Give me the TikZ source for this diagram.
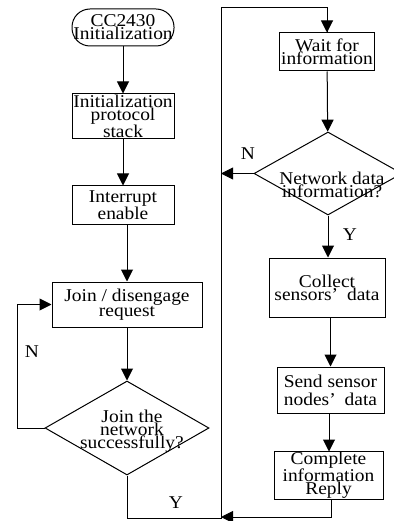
\documentclass[tikz,border=0pt]{standalone}
\usepackage{fontspec}
\setmainfont[FakeStretch=1.08]{Liberation Serif}
\usetikzlibrary{arrows.meta,shapes.geometric,calc}
\begin{document}
\begin{tikzpicture}[x=1pt,y=-1pt,
  every node/.style={font=\fontsize{18}{13}\selectfont, align=center, inner sep=0pt},
  proc/.style={draw, line width=1pt, rectangle},
  term/.style={draw, line width=1pt, rectangle, rounded corners=18pt},
  dec/.style={draw, line width=1pt, diamond},
  flow/.style={line width=1pt, -{Triangle[length=12pt,width=12pt]}},
  link/.style={line width=1pt}]
\useasboundingbox (0,0) rectangle (393,521);

% left column: start-up and network joining
\node[term, minimum width=102pt, minimum height=37pt] (start) at (123,27.5) {CC2430\\Initialization};
\node[proc, minimum width=102pt, minimum height=45pt] (init) at (123,116.5) {Initialization\\protocol\\stack};
\node[proc, minimum width=102pt, minimum height=38pt] (irq) at (123,205) {Interrupt\\enable};
\node[proc, minimum width=150pt, minimum height=45pt] (join) at (127,304.5) {Join / disengage\\request};
\node[dec, minimum width=164pt, minimum height=94pt] (d1) at (127,428) {};
\node (d1t) at (132,431) {Join the\\network\\successfully?};

% right column: data handling loop
\node[proc, minimum width=95pt, minimum height=38pt] (wait) at (327,52) {Wait for\\information};
\node[dec, minimum width=148pt, minimum height=83pt] (d2) at (328,173.5) {};
\node (d2t) at (332,185) {Network data\\information?};
\node[proc, minimum width=116pt, minimum height=59pt] (collect) at (327,287.5) {Collect\\sensors’\hspace{0.5em}data};
\node[proc, minimum width=107pt, minimum height=46pt, font=\fontsize{18}{18}\selectfont] (send) at (330.5,390) {Send sensor\\nodes’\hspace{0.5em}data};
\node[proc, minimum width=109pt, minimum height=48pt] (complete) at (328.5,475) {Complete\\information\\Reply};

% loop rail
\coordinate (top) at (221,8);
\coordinate (bot) at (221,518);

% connectors
\draw[flow] (start) -- (init);
\draw[flow] (init) -- (irq);
\draw[flow] (irq.south -| join.north) -- (join.north);
\draw[flow] (join) -- (d1);
\draw[flow] (d1.west) -- (17,428) |- (join.west);
\draw[link] (d1.south) |- (bot) -- (top) -| (wait.north);
\draw[flow] (top -| wait.north) -- (wait.north);
\draw[flow] (wait) -- (d2);
\draw[flow] (d2.west) -- (d2.west -| top);
\draw[flow] (d2) -- (d2.south |- collect.north);
\draw[flow] (collect.south -| send.north) -- (send.north);
\draw[flow] (send.south -| complete.north) ++(0.5,0) -- ++(0,38);
\draw[flow] ($(complete.south)+(3,0)$) |- (221,517);

% branch labels
\node at (32,352) {N};
\node at (248,154) {N};
\node at (350,235) {Y};
\node at (176,503) {Y};
\end{tikzpicture}
\end{document}
